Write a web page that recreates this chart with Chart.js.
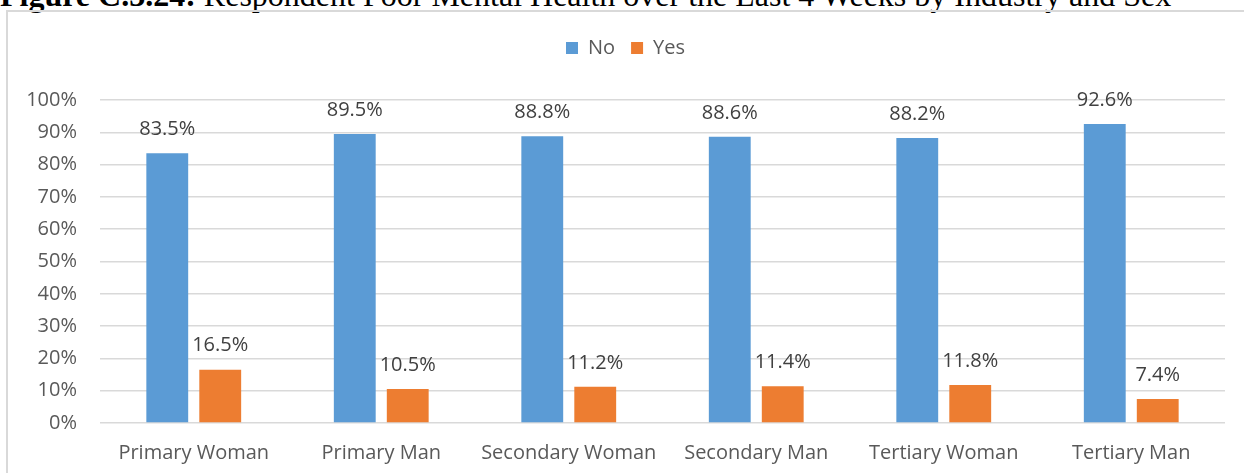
<!DOCTYPE html>
<html>

<head>
    <title>Respondent Poor Mental Health</title>
    <script src="https://cdn.jsdelivr.net/npm/chart.js"></script>
    <style>
        body {
            margin: 0;
            background: #fff;
            overflow: hidden;
        }

        /* title of the figure, only its lower part shows */
        #figTitle {
            position: absolute;
            left: 0;
            top: -21px;
            font-family: "Liberation Serif", serif;
            font-size: 32px;
            line-height: 32px;
            white-space: nowrap;
            color: #000;
        }

        /* light frame round the chart */
        .frame {
            position: absolute;
            left: 6px;
            top: 10px;
            width: 1300px;
            height: 520px;
            border-left: 2px solid #d9d9d9;
            border-top: 2px solid #d9d9d9;
        }

        .chart-container {
            position: absolute;
            left: 0;
            top: 0;
            width: 1244px;
            height: 473px;
        }
    </style>
</head>

<body>
    <div id="figTitle"><b>Figure C.3.24:</b> Respondent Poor Mental Health over the Last 4 Weeks by Industry and Sex</div>
    <div class="frame"></div>

    <div class="chart-container">
        <canvas id="healthChart"></canvas>
    </div>

    <script>
        const categories = ["Primary Woman", "Primary Man", "Secondary Woman", "Secondary Man", "Tertiary Woman", "Tertiary Man"];
        const noValues = [83.5, 89.5, 88.8, 88.6, 88.2, 92.6];
        const yesValues = [16.5, 10.5, 11.2, 11.4, 11.8, 7.4];
        const yTicks = [0, 10, 20, 30, 40, 50, 60, 70, 80, 90, 100];

        const FONT = "'Open Sans', sans-serif";

        // make room under the legend so the plot starts at the right height,
        // and nudge the legend a bit to the right like the original
        const legendSpace = {
            id: "legendSpace",
            beforeInit(chart) {
                const fit = chart.legend.fit;
                chart.legend.fit = function () {
                    fit.bind(chart.legend)();
                    this.height = 78;
                };
            },
            afterLayout(chart) {
                chart.legend.left += 13;
                chart.legend.right += 13;
            }
        };

        // value labels above each bar
        const barLabels = {
            id: "barLabels",
            afterDatasetsDraw(chart) {
                const ctx = chart.ctx;
                ctx.save();
                ctx.font = "20px " + FONT;
                ctx.fillStyle = "#404040";
                ctx.textAlign = "center";
                ctx.textBaseline = "middle";
                chart.data.datasets.forEach((ds, i) => {
                    chart.getDatasetMeta(i).data.forEach((bar, j) => {
                        ctx.fillText(ds.data[j].toFixed(1) + "%", bar.x, bar.y - 24);
                    });
                });
                ctx.restore();
            }
        };

        const ctx = document.getElementById("healthChart").getContext("2d");

        new Chart(ctx, {
            type: "bar",
            data: {
                labels: categories,
                datasets: [
                    { label: "No", data: noValues, backgroundColor: "#5b9bd5" },
                    { label: "Yes", data: yesValues, backgroundColor: "#ed7d31" }
                ]
            },
            options: {
                responsive: true,
                maintainAspectRatio: false,
                animation: false,
                categoryPercentage: 0.565,
                barPercentage: 0.79,
                layout: { padding: { top: 22, right: 19, left: 0, bottom: 0 } },
                plugins: {
                    legend: {
                        position: "top",
                        labels: {
                            boxWidth: 12,
                            boxHeight: 12,
                            padding: 16,
                            color: "#595959",
                            font: { family: FONT, size: 20 }
                        }
                    },
                    tooltip: { enabled: false }
                },
                scales: {
                    x: {
                        grid: { display: false, drawTicks: false },
                        border: { display: false },
                        ticks: {
                            color: "#595959",
                            padding: 18,
                            font: { family: FONT, size: 20 }
                        },
                        afterFit(scale) { scale.height = 50; }
                    },
                    y: {
                        min: 0,
                        max: 100,
                        afterBuildTicks(scale) {
                            scale.ticks = yTicks.map(v => ({ value: v }));
                        },
                        grid: { color: "#d9d9d9", lineWidth: 1.5, drawTicks: false },
                        border: { display: false },
                        ticks: {
                            color: "#595959",
                            padding: 23,
                            font: { family: FONT, size: 20 },
                            callback: v => v + "%"
                        },
                        afterFit(scale) { scale.width = 100; }
                    }
                }
            },
            plugins: [legendSpace, barLabels]
        });
    </script>
</body>

</html>
